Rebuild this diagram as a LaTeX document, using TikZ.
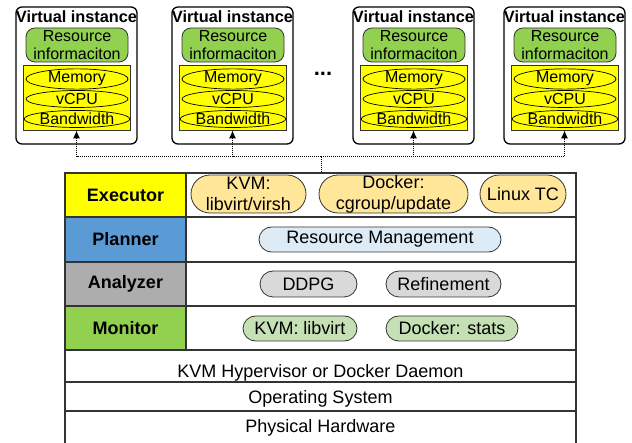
\documentclass[tikz,border=0pt]{standalone}
\usepackage{fontspec}
\setmainfont{Liberation Sans}
\usetikzlibrary{arrows.meta,shapes.misc,shapes.geometric}

\definecolor{exyellow}{HTML}{FFFF00}
\definecolor{plblue}{HTML}{5B9BD5}
\definecolor{angray}{HTML}{ADADAD}
\definecolor{mogreen}{HTML}{92D050}
\definecolor{expill}{HTML}{FFE699}
\definecolor{plpill}{HTML}{DDEBF7}
\definecolor{anpill}{HTML}{D9D9D9}
\definecolor{mopill}{HTML}{C5E0B4}
\definecolor{edge}{HTML}{333333}

\tikzset{
	vbox/.style={draw=black, line width=1.3pt, rounded corners=6pt, minimum width=121pt, minimum height=137pt, inner sep=0pt},
	vtitle/.style={font=\bfseries\fontsize{16.3}{18}\selectfont, inner sep=0pt},
	resinfo/.style={draw=edge, fill=mogreen, line width=0.8pt, rounded corners=9pt, minimum width=102pt, minimum height=34pt, inner sep=0pt, align=center, font=\fontsize{16}{18}\selectfont},
	resbox/.style={draw=edge, fill=exyellow, line width=0.8pt, minimum width=107pt, minimum height=65pt, inner sep=0pt},
	resell/.style={draw=black, ellipse, line width=0.7pt, minimum width=102pt, minimum height=17pt, inner sep=0pt, font=\fontsize{16}{18}\selectfont},
	cell/.style={draw=edge, line width=1.2pt, inner sep=0pt, font=\fontsize{18}{21}\selectfont},
	lbl/.style={cell, minimum width=121pt, font=\bfseries\fontsize{18}{20}\selectfont},
	rowtext/.style={anchor=base, inner sep=0pt, font=\fontsize{18}{21}\selectfont},
	pill/.style={rounded rectangle, draw=edge, line width=0.8pt, inner sep=0pt, minimum height=25pt, align=center, font=\fontsize{18}{21}\selectfont},
	link/.style={densely dotted, line width=1pt},
}

\def\vinstance(#1)#2{%
	\begin{scope}[xshift=#1]
		\node[vbox] (#2) at (60.5, 75.5) {};
		\node[vtitle] (#2t) at (60.5, 17) {Virtual instance};
		\node[resinfo] (#2r) at (61, 45) {Resource\\informaciton};
		\node[resbox] (#2y) at (60.5, 97.5) {};
		\node[resell] (#2m) at (61, 79) {Memory};
		\node[resell] (#2c) at (61, 99) {vCPU};
		\node[resell] (#2b) at (61, 119) {Bandwidth};
	\end{scope}}

\begin{document}
\begin{tikzpicture}[x=1pt, y=-1pt]
			%%%%% START %%%%%
			\useasboundingbox (0, 0) rectangle (632, 443);
			
			\vinstance(16){vi1}
			\vinstance(172){vi2}
			\vinstance(353){vi3}
			\vinstance(504){vi4}
			\node[font=\bfseries\fontsize{22}{22}\selectfont, inner sep=0pt] (dots) at (323, 74) {...};
			
			\node[lbl, fill=exyellow, minimum height=44pt] (exl) at (125.5, 195) {Executor};
			\node[cell, minimum width=390pt, minimum height=44pt] (exc) at (381, 195) {};
			\node[lbl, fill=plblue, minimum height=45pt] (pll) at (125.5, 239.5) {Planner};
			\node[cell, minimum width=390pt, minimum height=45pt] (plc) at (381, 239.5) {};
			\node[lbl, fill=angray, minimum height=44pt] (anl) at (125.5, 284) {Analyzer};
			\node[cell, minimum width=390pt, minimum height=44pt] (anc) at (381, 284) {};
			\node[lbl, fill=mogreen, minimum height=44pt] (mol) at (125.5, 328) {Monitor};
			\node[cell, minimum width=390pt, minimum height=44pt] (moc) at (381, 328) {};
			
			\node[cell, minimum width=511pt, minimum height=32pt] (hyp) at (320.5, 366) {};
			\node[cell, minimum width=511pt, minimum height=29pt] (os) at (320.5, 396.5) {};
			\node[cell, minimum width=511pt, minimum height=34pt] (hw) at (320.5, 428) {};
			\node[rowtext] (hyptxt) at (320.5, 378) {KVM Hypervisor or Docker Daemon};
			\node[rowtext] (ostxt) at (320.5, 404) {Operating System};
			\node[rowtext] (hwtxt) at (320.5, 433) {Physical Hardware};
			
			\node[pill, fill=expill, minimum width=115pt, minimum height=38pt] (kvmex) at (248.5, 194) {KVM:\\libvirt/virsh};
			\node[pill, fill=expill, minimum width=149pt, minimum height=38pt] (dockex) at (393.5, 194) {Docker:\\cgroup/update};
			\node[pill, fill=expill, minimum width=86pt, minimum height=38pt] (tc) at (523, 194) {Linux TC};
			
			\node[pill, fill=plpill, minimum width=242pt] (rm) at (380, 239.5) {Resource Management};
			
			\node[pill, fill=anpill, minimum width=97pt, minimum height=26pt] (ddpg) at (308.5, 284) {DDPG};
			\node[pill, fill=anpill, minimum width=115pt, minimum height=26pt] (refine) at (443.5, 284) {Refinement};
			
			\node[pill, fill=mopill, minimum width=114pt] (kvmmo) at (300, 328.5) {KVM: libvirt};
			\node[pill, fill=mopill, minimum width=132pt] (dockmo) at (452, 328.5) {Docker: stats};
			
			\coordinate (hub) at (321, 157);
			\draw[link] (exc.north -| hub) -- (hub);
			\draw[link, -{Latex[length=8pt, width=7pt]}] (hub) -| (vi1y.south);
			\draw[link, -{Latex[length=8pt, width=7pt]}] (hub) -| (vi2y.south);
			\draw[link, -{Latex[length=8pt, width=7pt]}] (hub) -| (vi3y.south);
			\draw[link, -{Latex[length=8pt, width=7pt]}] (hub) -| (vi4y.south);
			
			%%%%% END %%%%%
\end{tikzpicture}
\end{document}
